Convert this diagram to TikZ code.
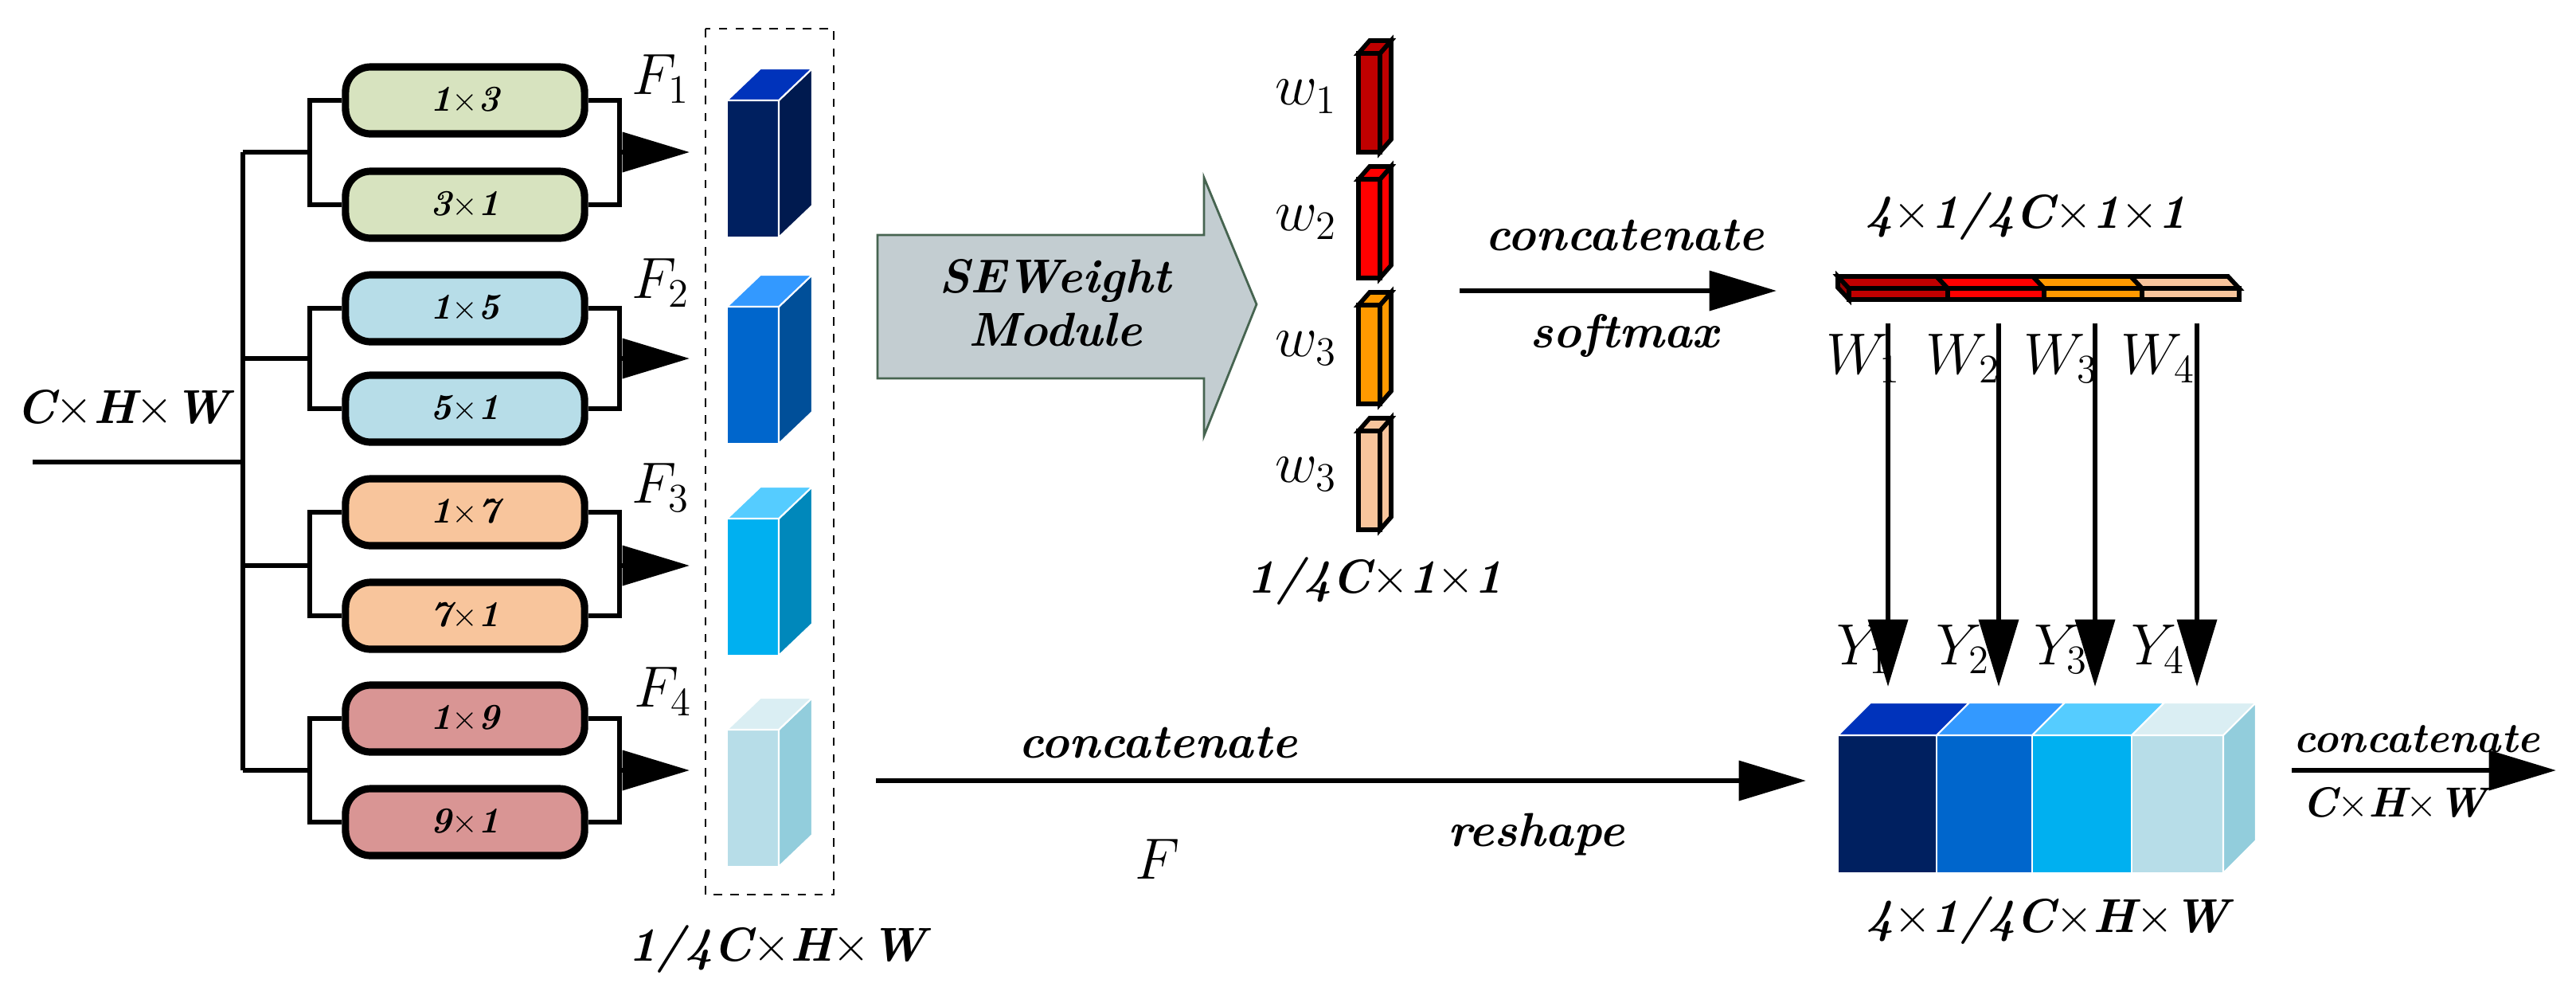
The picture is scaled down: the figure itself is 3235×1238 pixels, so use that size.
\documentclass[tikz,border=0pt]{standalone}
\usetikzlibrary{arrows.meta}
\begin{document}
\begin{tikzpicture}[x=0.01cm,y=-0.01cm,
 thk/.style={line width=1.8pt},
 arr/.style={thk,-{Triangle[length=24pt,width=14pt]}},
 kbox/.style={draw,line width=2.6pt,rounded corners=9pt,minimum width=3.0cm,minimum height=0.84cm,font=\fontsize{13}{14}\selectfont\bfseries\itshape},
 lab/.style={font=\fontsize{17}{19}\selectfont\bfseries\itshape},
 mlab/.style={font=\fontsize{22}{24}\selectfont}]
\definecolor{g1}{HTML}{D7E3BF}\definecolor{b1}{HTML}{B7DDE8}
\definecolor{o1}{HTML}{F8C59C}\definecolor{r1}{HTML}{D99594}
\definecolor{sefill}{HTML}{C3CDD1}\definecolor{sedraw}{HTML}{466450}
\definecolor{vdark}{HTML}{960000}\definecolor{bside}{HTML}{92CDDC}
\useasboundingbox (0,0) rectangle (3235,1238);
% input
\coordinate (in) at (41,580); \coordinate (tr) at (305,580);
\draw[thk] (in) -- (tr);
\node[lab] (chw) at (154,513) {C$\times$H$\times$W};
\coordinate (t1) at (305,191); \coordinate (t4) at (305,967);
\draw[thk] (t1) -- (t4);
\foreach \a/\b/\cc/\yc/\ya/\yb/\fl in {
 1$\times$3/3$\times$1/g1/191/126/257/1,
 1$\times$5/5$\times$1/b1/450/387/513/2,
 1$\times$7/7$\times$1/o1/710/643/773/3,
 1$\times$9/9$\times$1/r1/967/902/1032/4}{
 \node[kbox,fill=\cc] (ka\fl) at (584,\ya) {\a};
 \node[kbox,fill=\cc] (kb\fl) at (584,\yb) {\b};
 \draw[thk] (305,\yc) -- (389,\yc);
 \draw[thk] (ka\fl.west) -| (389,\yb) -- (kb\fl.west);
 \draw[thk] (ka\fl.east) -| (778,\yb) -- (kb\fl.east);
 \draw[arr] (778,\yc) -- (866,\yc);
}
\node[mlab] (f1) at (830,99) {$F_1$};
\node[mlab] (f2) at (830,355) {$F_2$};
\node[mlab] (f3) at (830,612) {$F_3$};
\node[mlab] (f4) at (833,868) {$F_4$};
\draw[dashed,line width=0.8pt] (886,36) rectangle (1047,1123);
% cubes
\foreach \y/\fr/\sd/\tp in {126/002060/001A4F/0033BB,385/0066CC/004F99/3399FF,651/00B0F0/0088BB/55CCFF,916/B7DDE8/92CDDC/DAEEF3}{
 \definecolor{cf}{HTML}{\fr}\definecolor{cs}{HTML}{\sd}\definecolor{ct}{HTML}{\tp}
 \fill[cf,draw=white,line width=0.6pt] (913,\y) rectangle (978,\y+172);
 \fill[cs,draw=white,line width=0.6pt] (978,\y) -- (1020,\y-40) -- (1020,\y+132) -- (978,\y+172) -- cycle;
 \fill[ct,draw=white,line width=0.6pt] (913,\y) -- (955,\y-40) -- (1020,\y-40) -- (978,\y) -- cycle;
}
\node[lab] (q) at (976,1192) {1/4C$\times$H$\times$W};
% SE arrow
\path[fill=sefill,draw=sedraw,line width=0.8pt]
 (1102,295) -- (1512,295) -- (1512,223) -- (1578,382) -- (1512,547) -- (1512,475) -- (1102,475) -- cycle;
\node[lab,align=center] (se) at (1325,380) {SEWeight\\Module};
% w bars
\foreach \y/\c/\i/\s in {51/C00000/1/1,209/FF0000/2/2,367/FF9900/3/3,525/F8C59C/4/3}{
 \definecolor{wc}{HTML}{\c}
 \draw[fill=wc,line width=1.6pt] (1706,\y+16) rectangle (1733,\y+140);
 \draw[fill=wc,line width=1.6pt] (1733,\y+16) -- (1747,\y) -- (1747,\y+124) -- (1733,\y+140) -- cycle;
 \draw[fill=wc,line width=1.6pt] (1706,\y+16) -- (1720,\y) -- (1747,\y) -- (1733,\y+16) -- cycle;
 \node[mlab] (w\i) at (1640,\y+70) {$w_\s$};
}
\node[lab] (q2) at (1727,730) {1/4C$\times$1$\times$1};
\coordinate (sa) at (1833,365); \coordinate (sb) at (2231,365);
\draw[arr] (sa) -- (sb);
\node[lab] (cc1) at (2040,296) {concatenate};
\node[lab] (sm) at (2040,422) {softmax};
% weight vector
\node[lab] (v) at (2544,272) {4$\times$1/4C$\times$1$\times$1};
\draw[fill=vdark,line width=1.6pt] (2308,347) -- (2322,362) -- (2322,376) -- (2308,361) -- cycle;
\foreach \xa/\xb/\c in {2322/2446/C00000,2446/2567/FF0000,2567/2690/FF9900,2690/2812/F8C59C}{
 \definecolor{vc}{HTML}{\c}
 \draw[fill=vc,line width=1.6pt] (\xa,362) rectangle (\xb,376);
 \draw[fill=vc,line width=1.6pt] (\xa-14,347) -- (\xb-14,347) -- (\xb,362) -- (\xa,362) -- cycle;
}
% W arrows
\foreach \x/\i/\lx in {2371/1/2340,2510/2/2465,2631/3/2588,2759/4/2710}{
 \coordinate (wa\i) at (\x,406); \coordinate (wb\i) at (\x,862);
 \draw[arr] (wa\i) -- (wb\i);
 \node[mlab] (W\i) at (\lx,450) {$W_\i$};
 \node[mlab] (Y\i) at (\lx,815) {$Y_\i$};
}
% big block
\foreach \xa/\xb/\fr/\tp in {2308/2432/002060/0033BB,2432/2552/0066CC/3399FF,2552/2677/00B0F0/55CCFF,2677/2792/B7DDE8/DAEEF3}{
 \definecolor{cf}{HTML}{\fr}\definecolor{ct}{HTML}{\tp}
 \fill[cf,draw=white,line width=0.6pt] (\xa,923) rectangle (\xb,1096);
 \fill[ct,draw=white,line width=0.6pt] (\xa,923) -- (\xa+41,882) -- (\xb+41,882) -- (\xb,923) -- cycle;
}
\fill[bside,draw=white,line width=0.6pt] (2792,923) -- (2833,882) -- (2833,1055) -- (2792,1096) -- cycle;
\node[lab] (q3) at (2571,1156) {4$\times$1/4C$\times$H$\times$W};
\coordinate (oa) at (2878,967); \coordinate (ob) at (3210,967);
\draw[arr] (oa) -- (ob);
\node[font=\fontsize{15}{16}\selectfont\bfseries\itshape] (cc3) at (3035,928) {concatenate};
\node[font=\fontsize{15}{16}\selectfont\bfseries\itshape] (chw2) at (3007,1009) {C$\times$H$\times$W};
% bottom arrow
\coordinate (ba) at (1100,980); \coordinate (bb) at (2268,980);
\draw[arr] (ba) -- (bb);
\node[lab] (cc2) at (1454,932) {concatenate};
\node[mlab] (F) at (1454,1079) {$F$};
\node[lab] (rs) at (1929,1048) {reshape};
\end{tikzpicture}
\end{document}
